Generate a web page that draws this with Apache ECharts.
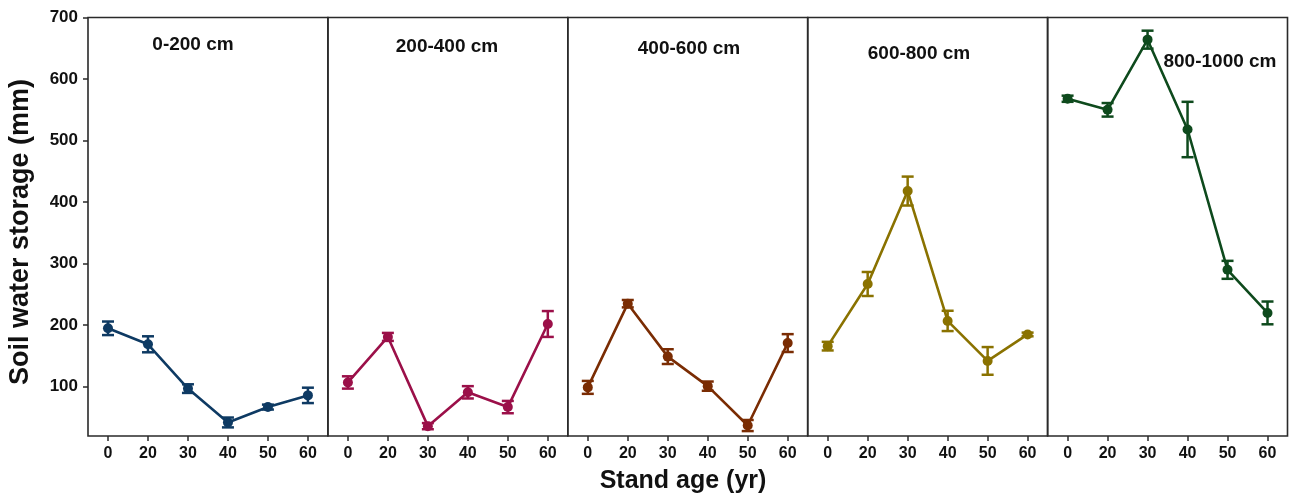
<!DOCTYPE html>
<html>
<head>
<meta charset="utf-8">
<script src="https://cdn.jsdelivr.net/npm/echarts@6/dist/echarts.min.js"></script>
<style>
  html, body { margin: 0; padding: 0; background: #fff; }
  #chart { width: 1289px; height: 496px; }
</style>
</head>
<body>
<div id="chart"></div>
<script>
// Stand ages (yr) shared by every depth panel
const standAges = ['0', '20', '30', '40', '50', '60'];

// Soil depth layers, one panel each
const layers = ['0-200 cm', '200-400 cm', '400-600 cm', '600-800 cm', '800-1000 cm'];

// Mean soil water storage (mm) per layer
const storage0to200 = [195, 169, 97, 42, 67, 86];
const storage200to400 = [107, 181, 36, 91, 67, 202];
const storage400to600 = [99, 235, 149, 101, 37, 171];
const storage600to800 = [166, 267, 418, 207, 142, 185];
const storage800to1000 = [568, 550, 664, 518, 290, 220];

// Error-bar half widths (mm) per layer
const err0to200 = [11, 13, 7, 8, 4, 12.5];
const err200to400 = [10, 6.5, 5, 10, 10, 21];
const err400to600 = [10.5, 6, 12, 7.5, 9, 14.5];
const err600to800 = [7, 19.5, 23.5, 16.5, 22.5, 3];
const err800to1000 = [5, 11, 14.6, 45, 14.6, 18.5];

// Y-axis tick labels
const yTicks = [100, 200, 300, 400, 500, 600, 700];

const means = [storage0to200, storage200to400, storage400to600, storage600to800, storage800to1000];
const errs = [err0to200, err200to400, err400to600, err600to800, err800to1000];
const colors = ['#0e3a63', '#9b1049', '#7a2c03', '#8a7200', '#0e4a1d'];

const FONT = '"Liberation Sans", Arial, sans-serif';
const panelLeft = 88;
const panelWidth = 239.9;
const panelTop = 17.5;
const panelHeight = 418.5;

// Label anchor points for each layer title
const titlePos = [[193, 45], [447, 47], [689, 49], [919, 54], [1220, 62]];

const grids = [], xAxes = [], yAxes = [], series = [], graphics = [];

layers.forEach((name, i) => {
  grids.push({
    left: panelLeft + panelWidth * i,
    top: panelTop,
    width: panelWidth,
    height: panelHeight,
    show: true,
    borderColor: '#2a2a2a',
    borderWidth: 1.6,
    backgroundColor: 'transparent'
  });
  xAxes.push({
    type: 'category',
    gridIndex: i,
    data: standAges,
    boundaryGap: true,
    axisLine: { show: false },
    axisTick: { show: true, alignWithLabel: true, length: 5, lineStyle: { color: '#2a2a2a', width: 1.5 } },
    axisLabel: { color: '#111', fontFamily: FONT, fontWeight: 'bold', fontSize: 16, margin: 10 },
    splitLine: { show: false }
  });
  yAxes.push({
    type: 'value',
    gridIndex: i,
    min: 20,
    max: 700,
    axisLine: { show: false },
    axisTick: {
      show: i === 0, length: 5, customValues: yTicks,
      lineStyle: { color: '#2a2a2a', width: 1.5 }
    },
    axisLabel: {
      show: i === 0, customValues: yTicks,
      color: '#111', fontFamily: FONT, fontWeight: 'bold', fontSize: 17, margin: 10
    },
    splitLine: { show: false }
  });

  // Mean line with circular markers
  series.push({
    type: 'line',
    xAxisIndex: i,
    yAxisIndex: i,
    data: means[i],
    symbol: 'circle',
    symbolSize: 10,
    lineStyle: { color: colors[i], width: 2.6 },
    itemStyle: { color: colors[i] },
    z: 3,
    animation: false
  });

  // Vertical error bars with caps
  const color = colors[i];
  series.push({
    type: 'custom',
    xAxisIndex: i,
    yAxisIndex: i,
    data: means[i].map((m, k) => [k, m, errs[i][k]]),
    renderItem: function (params, api) {
      const x = api.value(0);
      const m = api.value(1);
      const e = api.value(2);
      const top = api.coord([x, m + e]);
      const bot = api.coord([x, m - e]);
      const half = 6;
      const style = { stroke: color, lineWidth: 2.5 };
      return {
        type: 'group',
        children: [
          { type: 'line', shape: { x1: top[0], y1: top[1], x2: bot[0], y2: bot[1] }, style },
          { type: 'line', shape: { x1: top[0] - half, y1: top[1], x2: top[0] + half, y2: top[1] }, style },
          { type: 'line', shape: { x1: bot[0] - half, y1: bot[1], x2: bot[0] + half, y2: bot[1] }, style }
        ]
      };
    },
    z: 4,
    animation: false
  });

  graphics.push({
    type: 'text',
    x: titlePos[i][0],
    y: titlePos[i][1],
    style: {
      text: name,
      fill: '#111',
      font: 'bold 19px ' + FONT,
      textAlign: 'center',
      textVerticalAlign: 'middle'
    }
  });
});

// Shared axis titles
graphics.push({
  type: 'text',
  x: 21,
  y: 232,
  rotation: Math.PI / 2,
  style: {
    text: 'Soil water storage (mm)',
    fill: '#111',
    font: 'bold 27px ' + FONT,
    textAlign: 'center',
    textVerticalAlign: 'middle'
  }
});
graphics.push({
  type: 'text',
  x: 683,
  y: 481,
  style: {
    text: 'Stand age (yr)',
    fill: '#111',
    font: 'bold 25px ' + FONT,
    textAlign: 'center',
    textVerticalAlign: 'middle'
  }
});

const chart = echarts.init(document.getElementById('chart'), null, { renderer: 'canvas' });
chart.setOption({
  backgroundColor: '#fff',
  animation: false,
  grid: grids,
  xAxis: xAxes,
  yAxis: yAxes,
  series: series,
  graphic: graphics
});
</script>
</body>
</html>
